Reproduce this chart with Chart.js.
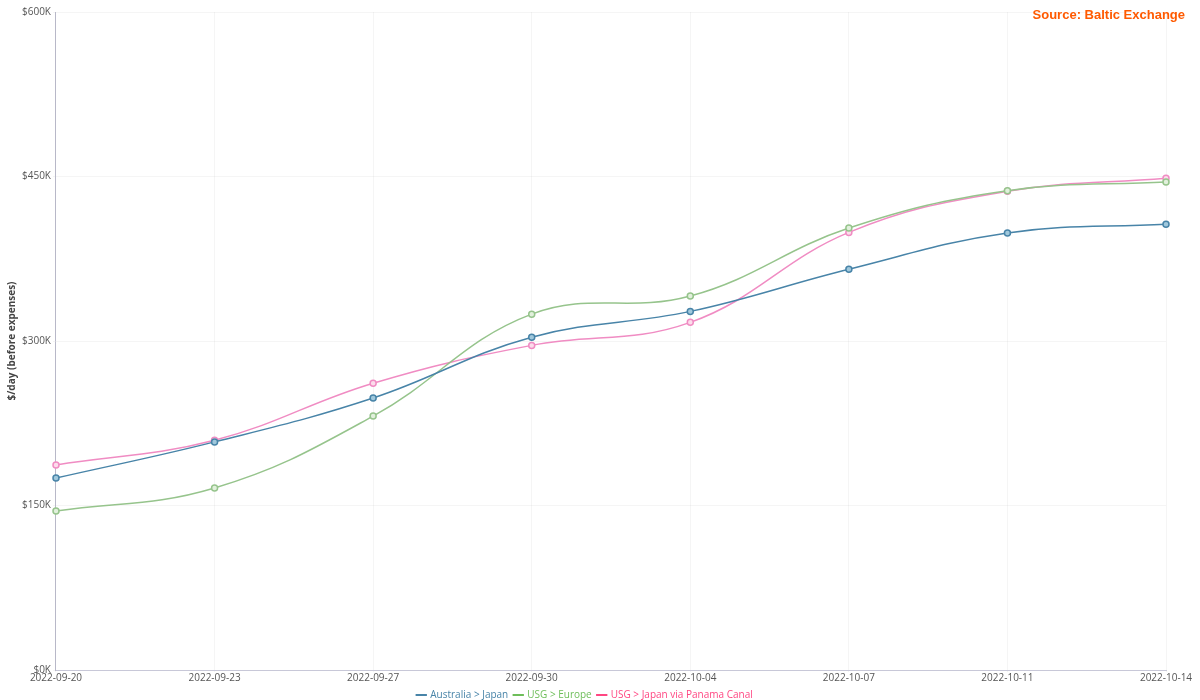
<!DOCTYPE html>
<html>
<head>
<meta charset="utf-8">
<script src="https://cdn.jsdelivr.net/npm/chart.js@4.4.0/dist/chart.umd.min.js"></script>
<style>
  html, body { margin: 0; padding: 0; background: #fff; }
  #wrap { width: 1200px; height: 700px; position: relative; }
</style>
</head>
<body>
<div id="wrap"><canvas id="myChart"></canvas></div>
<script>
const dates = ['2022-09-20', '2022-09-23', '2022-09-27', '2022-09-30', '2022-10-04', '2022-10-07', '2022-10-11', '2022-10-14'];

// $/day values
const australiaJapan = [175000, 208000, 248000, 303500, 327000, 365500, 398500, 406500];
const usgEurope = [145000, 166000, 231500, 324500, 341000, 403000, 437000, 445000];
const usgJapanPanama = [187000, 209500, 261500, 296000, 317000, 399000, 436500, 448500];

const yTicks = [0, 150000, 300000, 450000, 600000];

const sourceLabel = {
    id: 'sourceLabel',
    afterDraw(chart) {
        const c = chart.ctx;
        c.save();
        c.font = 'bold 13px "Liberation Sans", Arial, sans-serif';
        c.fillStyle = '#ff5a00';
        c.textAlign = 'right';
        c.textBaseline = 'middle';
        c.fillText('Source: Baltic Exchange', 1185, 15);
        c.restore();
    }
};

const ctx = document.getElementById('myChart');

new Chart(ctx, {
    type: 'line',
    data: {
        labels: dates,
        datasets: [{
            label: 'Australia > Japan',
            data: australiaJapan,
            borderColor: 'rgb(72, 132, 168)',
            backgroundColor: 'rgb(72, 132, 168)',
            pointBackgroundColor: 'rgba(160, 200, 220, 1)',
            borderWidth: 1.5
        }, {
            label: 'USG > Europe',
            data: usgEurope,
            borderColor: 'rgb(150, 196, 140)',
            backgroundColor: 'rgb(110, 190, 90)',
            pointBackgroundColor: 'rgba(225, 240, 220, 1)',
            borderWidth: 1.5
        }, {
            label: 'USG > Japan via Panama Canal',
            data: usgJapanPanama,
            borderColor: 'rgb(240, 140, 195)',
            backgroundColor: 'rgb(255, 70, 130)',
            pointBackgroundColor: 'rgba(252, 220, 235, 1)',
            borderWidth: 1.5
        }]
    },
    options: {
        responsive: true,
        maintainAspectRatio: false,
        animation: false,
        elements: {
            line: { tension: 0.4, fill: false },
            point: { radius: 3, borderWidth: 1 }
        },
        layout: { padding: { top: 12, right: 34, left: 4, bottom: -10 } },
        plugins: {
            legend: {
                position: 'bottom',
                labels: {
                    usePointStyle: true,
                    pointStyle: 'line',
                    boxWidth: 8,
                    boxHeight: 8,
                    padding: 6,
                    font: { size: 10, family: '"Open Sans", sans-serif' },
                    generateLabels(chart) {
                        return chart.data.datasets.map((ds, i) => ({
                            text: ds.label,
                            fillStyle: ds.backgroundColor,
                            strokeStyle: ds.backgroundColor,
                            fontColor: ds.backgroundColor,
                            lineWidth: 2,
                            pointStyle: 'line',
                            datasetIndex: i
                        }));
                    }
                }
            },
            title: { display: false },
            tooltip: { enabled: false }
        },
        scales: {
            x: {
                offset: false,
                grid: { color: 'rgba(0,0,0,0.04)', drawTicks: true, tickLength: 2 },
                border: { color: '#c8c8d8' },
                ticks: {
                    color: '#555',
                    maxRotation: 0,
                    autoSkip: false,
                    padding: 0,
                    font: { size: 10, family: '"Open Sans", sans-serif' }
                }
            },
            y: {
                min: 0,
                max: 600000,
                afterBuildTicks(axis) {
                    axis.ticks = yTicks.map(v => ({ value: v }));
                },
                grid: { color: 'rgba(0,0,0,0.04)', tickLength: 3 },
                border: { color: '#b8b8c8' },
                title: {
                    display: true,
                    text: '$/day (before expenses)',
                    color: '#444',
                    padding: 2,
                    font: { size: 10, weight: 'bold', family: '"Open Sans", sans-serif' }
                },
                ticks: {
                    color: '#555',
                    padding: 2,
                    font: { size: 10, family: '"Open Sans", sans-serif' },
                    callback: v => '$' + (v / 1000) + 'K'
                }
            }
        }
    },
    plugins: [sourceLabel]
});
</script>
</body>
</html>
